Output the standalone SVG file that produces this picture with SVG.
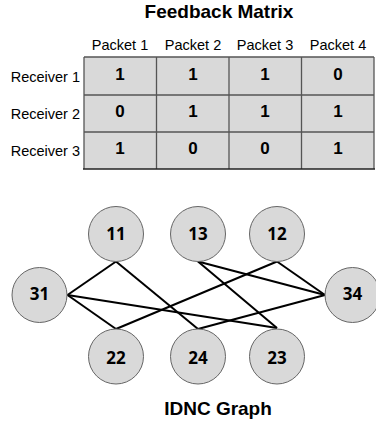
<svg xmlns="http://www.w3.org/2000/svg" width="376" height="424" viewBox="0 0 376 424">
<style>
.title{font-family:"Liberation Sans",Arial,sans-serif;font-weight:bold;font-size:19px;fill:#000;text-anchor:middle}
.hdr{font-family:"Liberation Sans",Arial,sans-serif;font-size:14.5px;fill:#000;text-anchor:middle}
.row{font-family:"Liberation Sans",Arial,sans-serif;font-size:14.5px;fill:#000;text-anchor:end}
.val{font-family:"Liberation Sans",Arial,sans-serif;font-weight:bold;font-size:17px;fill:#000;text-anchor:middle}
.cell{fill:#d9d9d9;stroke:none}
.grid{stroke:#555;stroke-width:1.3;fill:none}
.node circle{fill:#d9d9d9;stroke:#666;stroke-width:1}
.node text{font-family:"Open Sans","Liberation Sans",sans-serif;font-weight:bold;font-size:17px;fill:#000;text-anchor:middle}
.edge{stroke:#000;stroke-width:2;fill:none}
</style>
<text class="title" x="219" y="18">Feedback Matrix</text>
<g id="matrix">
<rect class="cell" x="84" y="57" width="290" height="112"/>
<g class="grid">
<line x1="84" y1="57" x2="374" y2="57"/>
<line x1="84" y1="95" x2="374" y2="95"/>
<line x1="84" y1="132" x2="374" y2="132"/>
<line x1="84" y1="57" x2="84" y2="169"/>
<line x1="156.5" y1="57" x2="156.5" y2="169"/>
<line x1="229" y1="57" x2="229" y2="169"/>
<line x1="301.5" y1="57" x2="301.5" y2="169"/>
<line x1="374" y1="57" x2="374" y2="169"/>
</g>
<line x1="83" y1="169" x2="375" y2="169" stroke="#222" stroke-width="1.5"/>
<text class="hdr" x="120" y="50">Packet 1</text>
<text class="hdr" x="193" y="50">Packet 2</text>
<text class="hdr" x="265" y="50">Packet 3</text>
<text class="hdr" x="338" y="50">Packet 4</text>
<text class="row" x="80" y="82">Receiver 1</text>
<text class="row" x="80" y="119">Receiver 2</text>
<text class="row" x="80" y="156">Receiver 3</text>
<text class="val" x="120" y="80">1</text>
<text class="val" x="193" y="80">1</text>
<text class="val" x="265" y="80">1</text>
<text class="val" x="338" y="80">0</text>
<text class="val" x="120" y="117">0</text>
<text class="val" x="193" y="117">1</text>
<text class="val" x="265" y="117">1</text>
<text class="val" x="338" y="117">1</text>
<text class="val" x="120" y="154">1</text>
<text class="val" x="193" y="154">0</text>
<text class="val" x="265" y="154">0</text>
<text class="val" x="338" y="154">1</text>
</g>
<g id="connectors">
<line class="edge" x1="67.5" y1="295" x2="116" y2="261.5"/>
<line class="edge" x1="67.5" y1="295" x2="116" y2="329"/>
<line class="edge" x1="67.5" y1="295" x2="277" y2="328"/>
<line class="edge" x1="116" y1="261.5" x2="198" y2="329"/>
<line class="edge" x1="198" y1="261.5" x2="325" y2="295"/>
<line class="edge" x1="198" y1="261.5" x2="277" y2="328"/>
<line class="edge" x1="277" y1="261.5" x2="116" y2="329"/>
<line class="edge" x1="277" y1="261.5" x2="325" y2="295"/>
<line class="edge" x1="198" y1="329" x2="325" y2="295"/>
</g>
<g id="n11" class="node"><circle cx="116" cy="234" r="27.5"/><text x="116" y="239.5">11</text></g>
<g id="n13" class="node"><circle cx="198" cy="234" r="27.5"/><text x="198" y="239.5">13</text></g>
<g id="n12" class="node"><circle cx="277" cy="234" r="27.5"/><text x="277" y="239.5">12</text></g>
<g id="n31" class="node"><circle cx="39.5" cy="295" r="27.5"/><text x="39.5" y="300">31</text></g>
<g id="n34" class="node"><circle cx="352.5" cy="295" r="27.5"/><text x="352.5" y="300">34</text></g>
<g id="n22" class="node"><circle cx="116" cy="356.5" r="27.5"/><text x="116" y="364">22</text></g>
<g id="n24" class="node"><circle cx="198" cy="356.5" r="27.5"/><text x="198" y="364">24</text></g>
<g id="n23" class="node"><circle cx="277" cy="356.5" r="27.5"/><text x="277" y="364">23</text></g>
<text class="title" x="218" y="415">IDNC Graph</text>
</svg>
